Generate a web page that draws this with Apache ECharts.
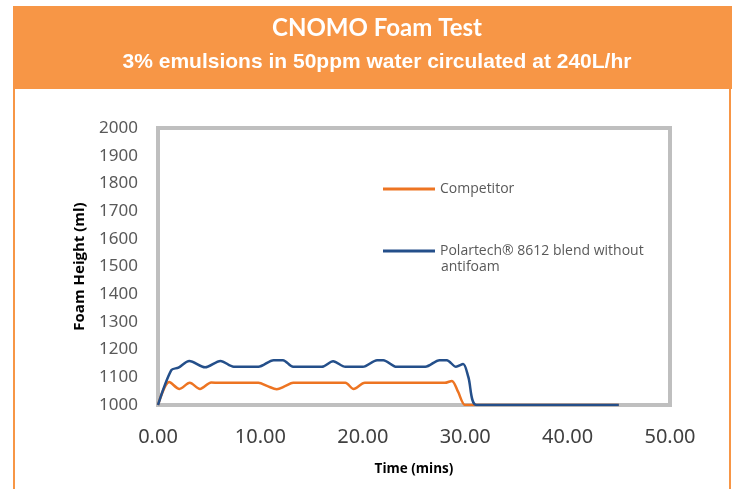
<!DOCTYPE html>
<html>
<head>
<meta charset="utf-8">
<script src="https://cdn.jsdelivr.net/npm/echarts@6/dist/echarts.min.js"></script>
<style>
  html, body { margin: 0; padding: 0; background: #fff; }
  #chart { width: 735px; height: 489px; }
</style>
</head>
<body>
<div id="chart"></div>
<script>
  // data (time in mins, foam height in ml)
  var competitorTime = [0, 1.1, 2.1, 3.1, 4.1, 5.2, 6, 8, 9.8, 10.7, 11.6, 12.4, 13.2, 15, 16.8, 18.3, 19.1, 20.2, 22, 25, 28, 28.7, 29.3, 30, 31, 35, 40, 45];
  var competitorFoam = [1000, 1083, 1058, 1080, 1058, 1081, 1080, 1080, 1080, 1068, 1057, 1068, 1080, 1080, 1080, 1080, 1058, 1080, 1080, 1080, 1080, 1087, 1048, 1000, 1000, 1000, 1000, 1000];
  var polarTime = [0, 1.3, 2, 3.06, 4.6, 6.1, 7.4, 9.8, 11.3, 12.2, 13.2, 16, 17.1, 18.3, 20, 21.4, 22, 23.3, 26.1, 27.5, 28.2, 29.1, 29.8, 30.3, 31.1, 35, 40, 45];
  var polarFoam = [1000, 1126, 1135, 1159, 1136, 1159, 1138, 1138, 1162, 1162, 1138, 1138, 1158, 1138, 1138, 1162, 1162, 1138, 1138, 1162, 1162, 1138, 1148, 1102, 1000, 1000, 1000, 1000];
  var seriesNames = ["Competitor", "Polartech® 8612 blend without"];

  function pairs(xs, ys) {
    var out = [];
    for (var i = 0; i < xs.length; i++) {
      out.push([xs[i], ys[i]]);
    }
    return out;
  }

  var myChart = echarts.init(document.getElementById("chart"));

  myChart.setOption({
    animation: false,
    title: [
      {
        text: "CNOMO Foam Test",
        left: 372,
        top: 11,
        textAlign: "center",
        textStyle: { color: "#fff", fontFamily: "Lato", fontWeight: "bold", fontSize: 24 }
      },
      {
        text: "3% emulsions in 50ppm water circulated at 240L/hr",
        left: 372,
        top: 47,
        textAlign: "center",
        textStyle: { color: "#fff", fontFamily: "Liberation Sans", fontWeight: "bold", fontSize: 21 }
      }
    ],
    graphic: [
      { type: "rect", z: -1, shape: { x: 13, y: 6, width: 719, height: 83 }, style: { fill: "#f79646" } },
      { type: "rect", z: -1, shape: { x: 13, y: 89, width: 2, height: 400 }, style: { fill: "#f79646" } },
      { type: "rect", z: -1, shape: { x: 729, y: 89, width: 2, height: 400 }, style: { fill: "#f79646" } },
      {
        type: "text", left: 441, top: 260,
        style: { text: "antifoam", fill: "#595959", font: "14px 'Open Sans'" }
      }
    ],
    legend: [
      {
        data: [seriesNames[0]],
        left: 378, top: 177,
        itemWidth: 52, itemHeight: 3,
        icon: "rect",
        textStyle: { color: "#595959", fontFamily: "Open Sans", fontSize: 14 }
      },
      {
        data: [seriesNames[1]],
        left: 378, top: 239,
        itemWidth: 52, itemHeight: 3,
        icon: "rect",
        textStyle: { color: "#595959", fontFamily: "Open Sans", fontSize: 14 }
      }
    ],
    grid: {
      show: true,
      left: 158, right: 65, top: 128, bottom: 84,
      borderColor: "#bfbfbf", borderWidth: 4,
      backgroundColor: "#fff"
    },
    xAxis: {
      type: "value",
      min: 0, max: 50, interval: 10,
      name: "Time (mins)",
      nameLocation: "middle",
      nameGap: 57,
      nameTextStyle: { color: "#000", fontFamily: "Open Sans", fontWeight: "bold", fontSize: 13.5 },
      axisLine: { show: false },
      axisTick: { show: false },
      splitLine: { show: false },
      axisLabel: {
        margin: 22,
        color: "#404040",
        fontFamily: "Noto Sans",
        fontSize: 20,
        formatter: function (v) { return v.toFixed(2); }
      }
    },
    yAxis: {
      type: "value",
      min: 1000, max: 2000, interval: 100,
      name: "Foam Height (ml)",
      nameLocation: "middle",
      nameGap: 71,
      nameTextStyle: { color: "#000", fontFamily: "Open Sans", fontWeight: "bold", fontSize: 15 },
      axisLine: { show: false },
      axisTick: { show: false },
      splitLine: { show: false },
      axisLabel: {
        margin: 20,
        color: "#595959",
        fontFamily: "Noto Sans",
        fontSize: 17,
        formatter: function (v) { return String(v); }
      }
    },
    series: [
      {
        name: seriesNames[0],
        type: "line",
        smooth: 0.3,
        symbol: "none",
        z: 2,
        color: "#ed7422",
        lineStyle: { width: 2.5, color: "#ed7422" },
        data: pairs(competitorTime, competitorFoam)
      },
      {
        name: seriesNames[1],
        type: "line",
        smooth: 0.3,
        symbol: "none",
        z: 3,
        color: "#244f8a",
        lineStyle: { width: 2.5, color: "#244f8a" },
        data: pairs(polarTime, polarFoam)
      }
    ]
  });
</script>
</body>
</html>
